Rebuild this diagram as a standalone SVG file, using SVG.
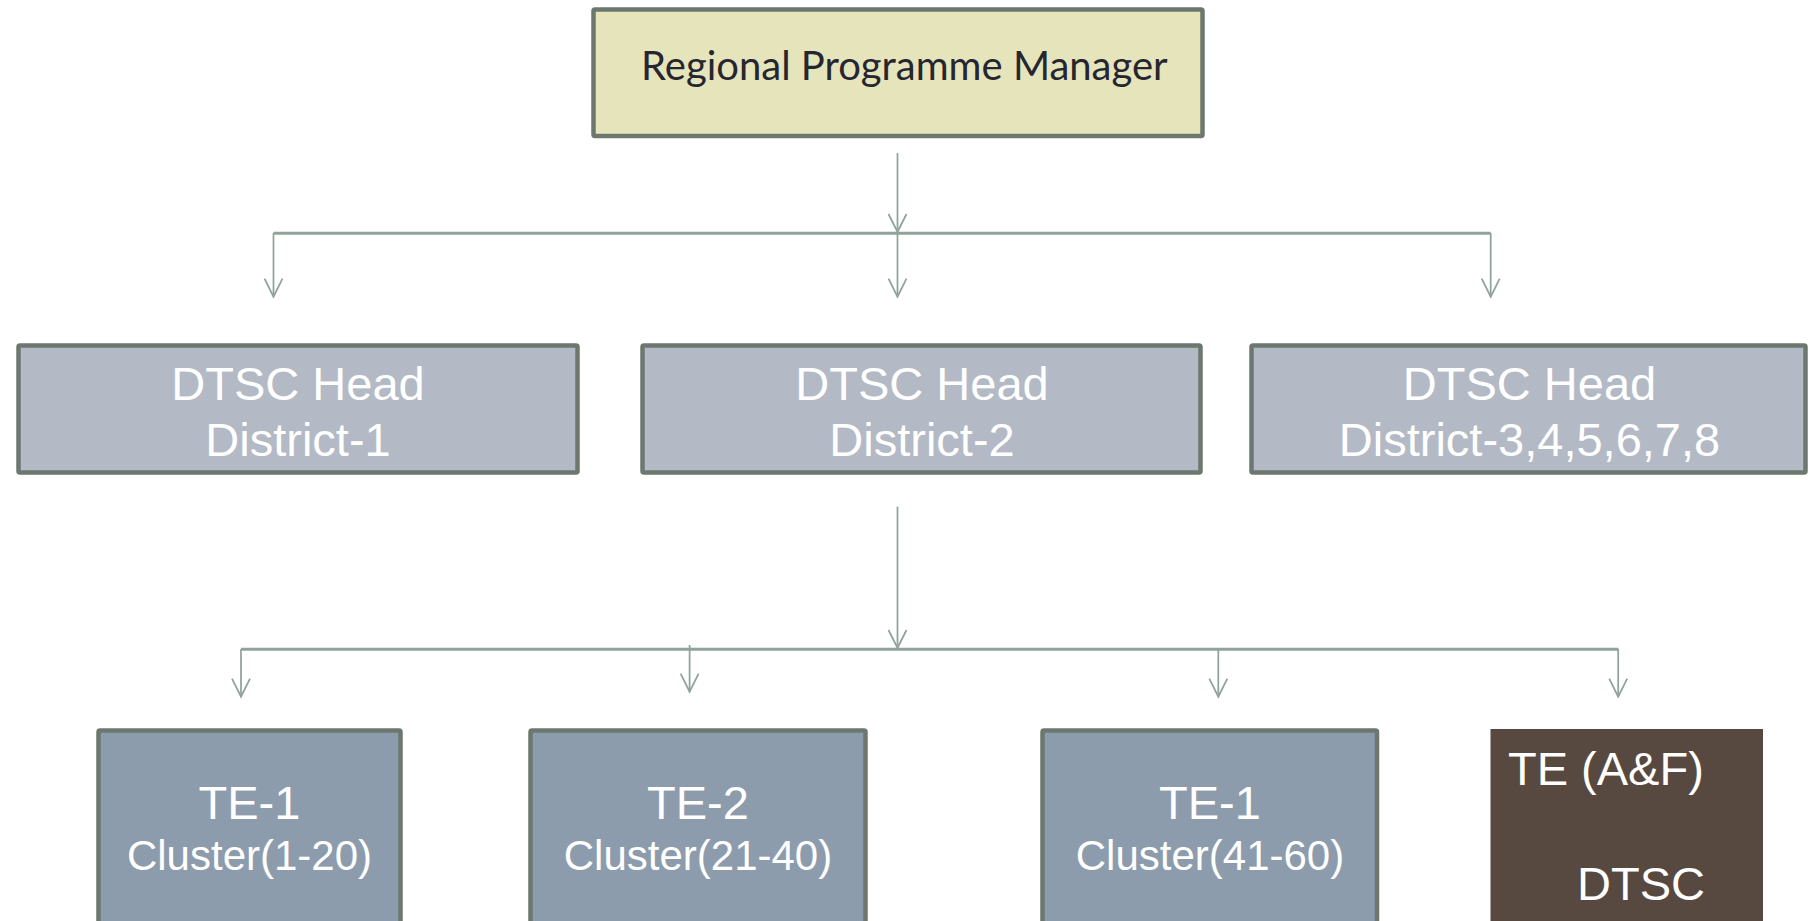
<svg xmlns="http://www.w3.org/2000/svg" width="1810" height="921" viewBox="0 0 1810 921">
  <defs>
    <style>
      .box { stroke: #6C776F; stroke-width: 4.5; }
      .manager { fill: #E6E4BB; }
      .head { fill: #B3BAC5; }
      .te { fill: #8D9CAD; }
      .af { fill: #574940; }
      .title { font-family: Lato, "Open Sans", sans-serif; font-size: 40px; fill: #262630; }
      .label { font-family: "Liberation Sans", Arial, sans-serif; fill: #FFFFFF; }
      .big { font-size: 47px; }
      .small { font-size: 42px; }
      .wire { fill: none; stroke: #90A39A; stroke-width: 1.75; }
      .bar { fill: none; stroke: #90A39A; stroke-width: 3; }
    </style>
    <marker id="arrow" markerUnits="userSpaceOnUse" orient="auto" refX="0" refY="0" markerWidth="20" markerHeight="20" overflow="visible">
      <path d="M-18,-9 L0,0 L-18,9" fill="none" stroke="#90A39A" stroke-width="1.75"/>
    </marker>
  </defs>

  <rect width="1810" height="921" fill="#FFFFFF"/>

  <!-- connectors -->
  <g id="connectors">
    <path class="wire" d="M897.5,153 V232" marker-end="url(#arrow)"/>
    <path class="bar" d="M273.5,233.3 H1490.7"/>
    <path class="wire" d="M273.5,233 V296.7" marker-end="url(#arrow)"/>
    <path class="wire" d="M897.5,233 V296.7" marker-end="url(#arrow)"/>
    <path class="wire" d="M1490.7,233 V296.7" marker-end="url(#arrow)"/>

    <path class="wire" d="M897.5,506.7 V648" marker-end="url(#arrow)"/>
    <path class="bar" d="M241,649.3 H1618.2"/>
    <path class="wire" d="M241,649 V696.7" marker-end="url(#arrow)"/>
    <path class="wire" d="M689.6,645 V691.7" marker-end="url(#arrow)"/>
    <path class="wire" d="M1218.3,649 V696.7" marker-end="url(#arrow)"/>
    <path class="wire" d="M1618.2,649 V696.7" marker-end="url(#arrow)"/>
  </g>

  <!-- top level -->
  <g id="regional-manager">
    <rect class="box manager" x="593.5" y="9.5" width="609" height="126.5" rx="1.5"/>
    <text class="title" x="641" y="80">Regional Programme Manager</text>
  </g>

  <!-- district heads -->
  <g id="dtsc-head-1">
    <rect class="box head" x="18.5" y="345.5" width="559" height="127" rx="1.5"/>
    <text class="label big" x="298" y="399.5" text-anchor="middle">DTSC Head</text>
    <text class="label big" x="298" y="455.5" text-anchor="middle">District-1</text>
  </g>
  <g id="dtsc-head-2">
    <rect class="box head" x="642.5" y="345.5" width="558" height="127" rx="1.5"/>
    <text class="label big" x="922" y="399.5" text-anchor="middle">DTSC Head</text>
    <text class="label big" x="922" y="455.5" text-anchor="middle">District-2</text>
  </g>
  <g id="dtsc-head-3-8">
    <rect class="box head" x="1251.5" y="345.5" width="554" height="127" rx="1.5"/>
    <text class="label big" x="1529.5" y="399.5" text-anchor="middle">DTSC Head</text>
    <text class="label big" x="1529.5" y="455.5" text-anchor="middle">District-3,4,5,6,7,8</text>
  </g>

  <!-- technical executives -->
  <g id="te-1-cluster-1-20">
    <rect class="box te" x="98.5" y="730.5" width="302" height="215" rx="1.5"/>
    <text class="label big" x="249.5" y="818.5" text-anchor="middle">TE-1</text>
    <text class="label small" x="249.5" y="869.5" text-anchor="middle">Cluster(1-20)</text>
  </g>
  <g id="te-2-cluster-21-40">
    <rect class="box te" x="530.5" y="730.5" width="335" height="215" rx="1.5"/>
    <text class="label big" x="698" y="818.5" text-anchor="middle">TE-2</text>
    <text class="label small" x="698" y="869.5" text-anchor="middle">Cluster(21-40)</text>
  </g>
  <g id="te-1-cluster-41-60">
    <rect class="box te" x="1042.5" y="730.5" width="334.5" height="215" rx="1.5"/>
    <text class="label big" x="1210" y="818.5" text-anchor="middle">TE-1</text>
    <text class="label small" x="1210" y="869.5" text-anchor="middle">Cluster(41-60)</text>
  </g>
  <g id="te-af-dtsc">
    <rect class="af" x="1490.5" y="729" width="272.5" height="215"/>
    <text class="label big" x="1508" y="785">TE (A&amp;F)</text>
    <text class="label big" x="1577" y="900">DTSC</text>
  </g>
</svg>
